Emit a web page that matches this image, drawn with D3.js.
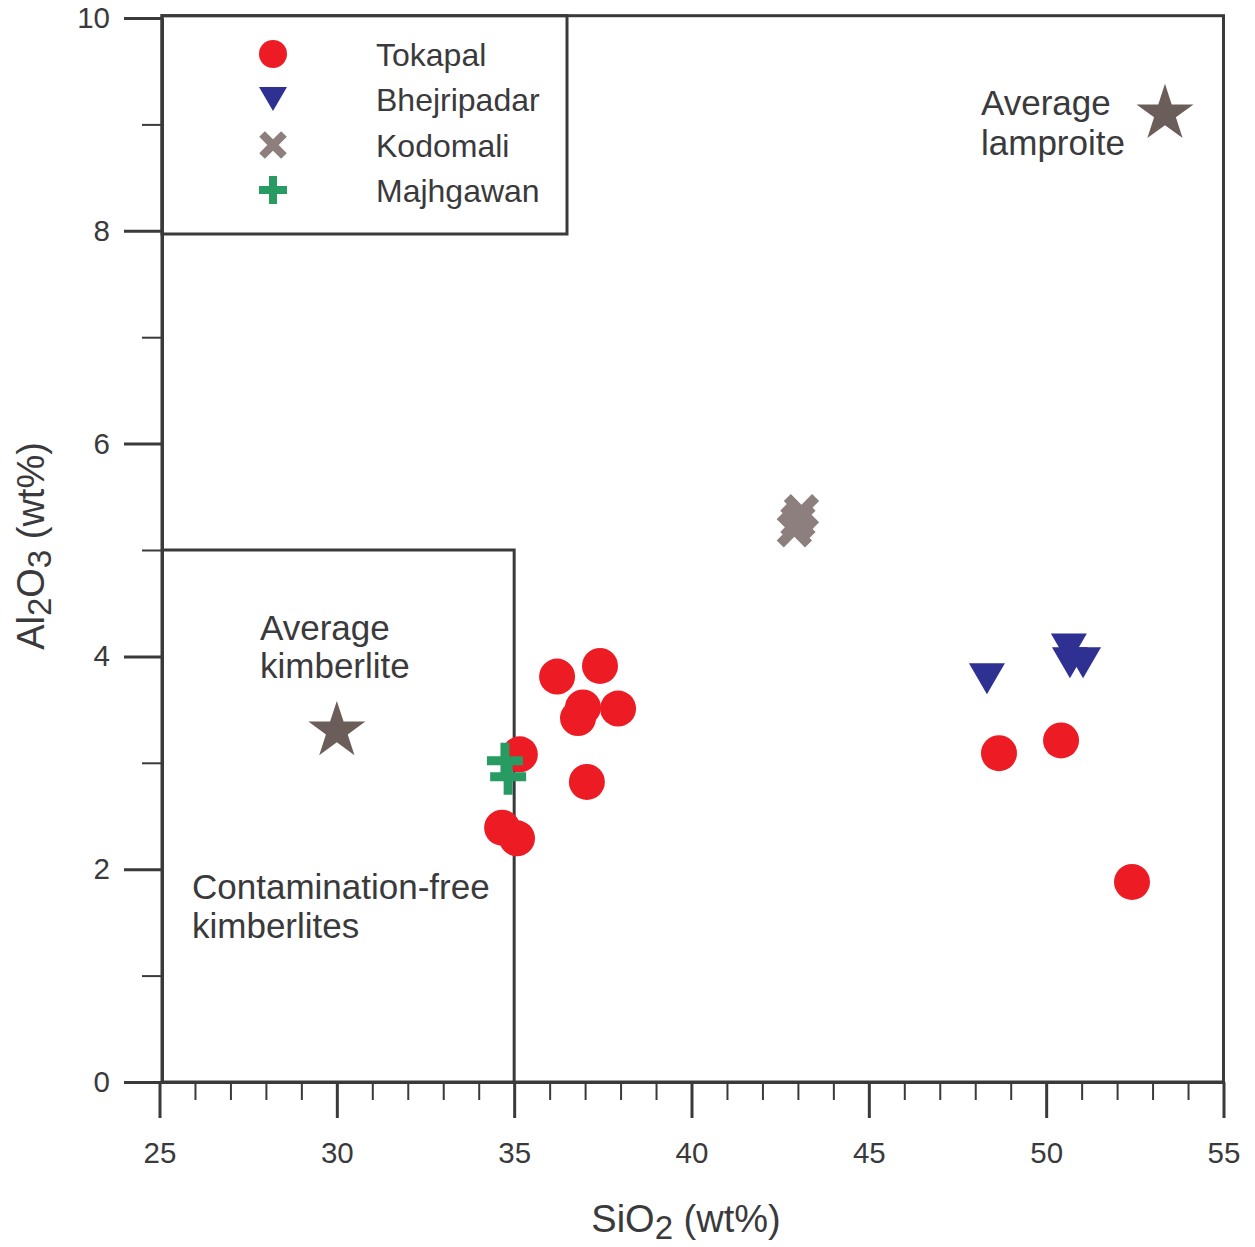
<!DOCTYPE html>
<html><head><meta charset="utf-8">
<script src="https://cdn.jsdelivr.net/npm/d3@7"></script>
<style>
body{margin:0;background:#fff}
svg{display:block}
text{font-family:"Liberation Sans",Arial,Helvetica,sans-serif;fill:#3a3a3c}
</style>
</head><body>
<svg id="chart" width="1255" height="1247"></svg>
<script>
// ---- data ----
const seriesNames = ["Tokapal", "Bhejripadar", "Kodomali", "Majhgawan"];
const seriesColors = ["#ed1c24", "#2e3192", "#8c7f7d", "#279b61"];

const tokapalSiO2  = [36.21, 37.42, 36.94, 36.80, 37.93, 35.16, 37.05, 34.66, 35.08, 48.67, 50.42, 52.42];
const tokapalAl2O3 = [3.81, 3.91, 3.52, 3.42, 3.51, 3.08, 2.82, 2.39, 2.29, 3.09, 3.21, 1.88];

const bhejripadarSiO2  = [48.33, 50.64, 50.67, 51.04];
const bhejripadarAl2O3 = [3.79, 4.07, 3.94, 3.94];

const kodomaliSiO2  = [43.1, 43.0, 42.9];
const kodomaliAl2O3 = [5.36, 5.27, 5.19];

const majhgawanSiO2  = [34.74, 34.83];
const majhgawanAl2O3 = [3.02, 2.87];

const averageNames = [["Average", "kimberlite"], ["Average", "lamproite"]];
const averageSiO2  = [30.0, 53.35];
const averageAl2O3 = [3.30, 9.10];

const xMajorTicks = [25, 30, 35, 40, 45, 50, 55];
const xMinorTicks = [26,27,28,29,31,32,33,34,36,37,38,39,41,42,43,44,46,47,48,49,51,52,53,54];
const yMajorTicks = [0, 2, 4, 6, 8, 10];
const yMinorTicks = [1, 3, 5, 7, 9];

const fieldSiO2Max = 35;   // contamination-free kimberlite field
const fieldAl2O3Max = 5;
const fieldLabel = ["Contamination-free", "kimberlites"];

// ---- setup ----
const ink = "#3a3a3c";
const starColor = "#6b5e5a";
const svg = d3.select("#chart");
const x = d3.scaleLinear().domain([25, 55]).range([159.5, 1223.5]);
const y = d3.scaleLinear().domain([0, 10]).range([1082, 18]);

const frameL = x(25) + 2.5, frameR = x(55), frameT = y(10) - 2.3, frameB = y(0);

// ---- marker path helpers ----
function plusPath(h, t) {
  const a = t / 2;
  return `M${-a},${-h}H${a}V${-a}H${h}V${a}H${a}V${h}H${-a}V${a}H${-h}V${-a}H${-a}Z`;
}
function crossPath(h, t) {
  const a = t / 2;
  const pts = [[-a,-h],[a,-h],[a,-a],[h,-a],[h,a],[a,a],[a,h],[-a,h],[-a,a],[-h,a],[-h,-a],[-a,-a]];
  const c = Math.SQRT1_2;
  return "M" + pts.map(([px, py]) => [(px - py) * c, (px + py) * c].map(v => v.toFixed(2)).join(",")).join("L") + "Z";
}
function triDownPath(w, h) {
  return `M${-w/2},${-h/2}L${w/2},${-h/2}L0,${h/2}Z`;
}
function starPath(R) {
  const r = R * 0.382;
  let p = [];
  for (let i = 0; i < 10; i++) {
    const ang = -Math.PI / 2 + i * Math.PI / 5;
    const rr = i % 2 === 0 ? R : r;
    p.push([rr * Math.cos(ang), rr * Math.sin(ang)]);
  }
  return "M" + p.map(d => d.map(v => v.toFixed(2)).join(",")).join("L") + "Z";
}

// ---- axes ----
const axisX = svg.append("g").attr("transform", `translate(0,${y(0)})`)
  .call(d3.axisBottom(x).tickValues(xMajorTicks).tickSize(36).tickPadding(24).tickSizeOuter(0));
const axisXm = svg.append("g").attr("transform", `translate(0,${y(0)})`)
  .call(d3.axisBottom(x).tickValues(xMinorTicks).tickSize(18).tickFormat("").tickSizeOuter(0));
const axisY = svg.append("g").attr("transform", `translate(${frameL},0)`)
  .call(d3.axisLeft(y).tickValues(yMajorTicks).tickSize(38).tickPadding(14).tickSizeOuter(0));
const axisYm = svg.append("g").attr("transform", `translate(${frameL},0)`)
  .call(d3.axisLeft(y).tickValues(yMinorTicks).tickSize(20).tickFormat("").tickSizeOuter(0));

[axisX, axisY].forEach(g => {
  g.selectAll("path,line").attr("stroke", ink).attr("stroke-width", 3);
  g.selectAll("text").attr("font-size", 29.5).attr("fill", ink)
    .style("font-family", '"Liberation Sans",Arial,sans-serif');
});
[axisXm, axisYm].forEach(g => {
  g.select(".domain").remove();
  g.selectAll("line").attr("stroke", ink).attr("stroke-width", 2);
});

// ---- frame & boxes ----
svg.append("rect").attr("x", frameL).attr("y", frameT)
  .attr("width", frameR - frameL).attr("height", frameB - frameT)
  .attr("fill", "none").attr("stroke", ink).attr("stroke-width", 3);

svg.append("path")
  .attr("d", `M${frameL},${y(fieldAl2O3Max)}H${x(fieldSiO2Max)}V${frameB}`)
  .attr("fill", "none").attr("stroke", ink).attr("stroke-width", 3);

// legend box
svg.append("rect").attr("x", frameL).attr("y", frameT)
  .attr("width", 567 - frameL).attr("height", 234 - frameT)
  .attr("fill", "none").attr("stroke", ink).attr("stroke-width", 3);

// ---- titles ----
const xt = svg.append("text").attr("x", 686).attr("y", 1232)
  .attr("text-anchor", "middle").attr("font-size", 38);
xt.append("tspan").text("SiO");
xt.append("tspan").attr("font-size", 33).attr("dy", 7).text("2");
xt.append("tspan").attr("dy", -7).text(" (wt%)");

const yt = svg.append("text").attr("transform", "translate(44,546) rotate(-90)")
  .attr("text-anchor", "middle").attr("font-size", 38);
yt.append("tspan").text("Al");
yt.append("tspan").attr("font-size", 33).attr("dy", 7).text("2");
yt.append("tspan").attr("dy", -7).text("O");
yt.append("tspan").attr("font-size", 33).attr("dy", 7).text("3");
yt.append("tspan").attr("dy", -7).text(" (wt%)");

// ---- annotations ----
function multiline(lines, px, py, lh) {
  const t = svg.append("text").attr("x", px).attr("y", py).attr("font-size", 35);
  lines.forEach((l, i) => t.append("tspan").attr("x", px).attr("dy", i === 0 ? 0 : lh).text(l));
}
multiline(averageNames[0], 260, 640, 38);
multiline(averageNames[1], 981, 115, 40);
multiline(fieldLabel, 192, 899, 39);

// ---- data marks ----
const tok = tokapalSiO2.map((v, i) => ({x: v, y: tokapalAl2O3[i]}));
const bhe = bhejripadarSiO2.map((v, i) => ({x: v, y: bhejripadarAl2O3[i]}));
const kod = kodomaliSiO2.map((v, i) => ({x: v, y: kodomaliAl2O3[i]}));
const maj = majhgawanSiO2.map((v, i) => ({x: v, y: majhgawanAl2O3[i]}));
const avg = averageSiO2.map((v, i) => ({x: v, y: averageAl2O3[i]}));

svg.append("g").selectAll("path").data(avg).join("path")
  .attr("d", starPath(30)).attr("fill", starColor)
  .attr("transform", d => `translate(${x(d.x)},${y(d.y)})`);

svg.append("g").selectAll("circle").data(tok).join("circle")
  .attr("cx", d => x(d.x)).attr("cy", d => y(d.y)).attr("r", 18).attr("fill", seriesColors[0]);

svg.append("g").selectAll("path").data(bhe).join("path")
  .attr("d", triDownPath(36, 31)).attr("fill", seriesColors[1])
  .attr("transform", d => `translate(${x(d.x)},${y(d.y)})`);

svg.append("g").selectAll("path").data(kod).join("path")
  .attr("d", crossPath(20, 10)).attr("fill", seriesColors[2])
  .attr("transform", d => `translate(${x(d.x)},${y(d.y)})`);

svg.append("g").selectAll("path").data(maj).join("path")
  .attr("d", plusPath(18, 9)).attr("fill", seriesColors[3])
  .attr("transform", d => `translate(${x(d.x)},${y(d.y)})`);

// ---- legend ----
const legendY = [54, 99, 145, 190];
const legendSym = [
  g => g.append("circle").attr("r", 14),
  g => g.append("path").attr("d", triDownPath(28, 24)),
  g => g.append("path").attr("d", crossPath(15.5, 8)),
  g => g.append("path").attr("d", plusPath(14, 8))
];
seriesNames.forEach((name, i) => {
  const g = svg.append("g").attr("transform", `translate(273,${legendY[i]})`);
  legendSym[i](g).attr("fill", seriesColors[i]);
  svg.append("text").attr("x", 376).attr("y", legendY[i] + 12)
    .attr("font-size", 32).text(name);
});
</script>
</body></html>
